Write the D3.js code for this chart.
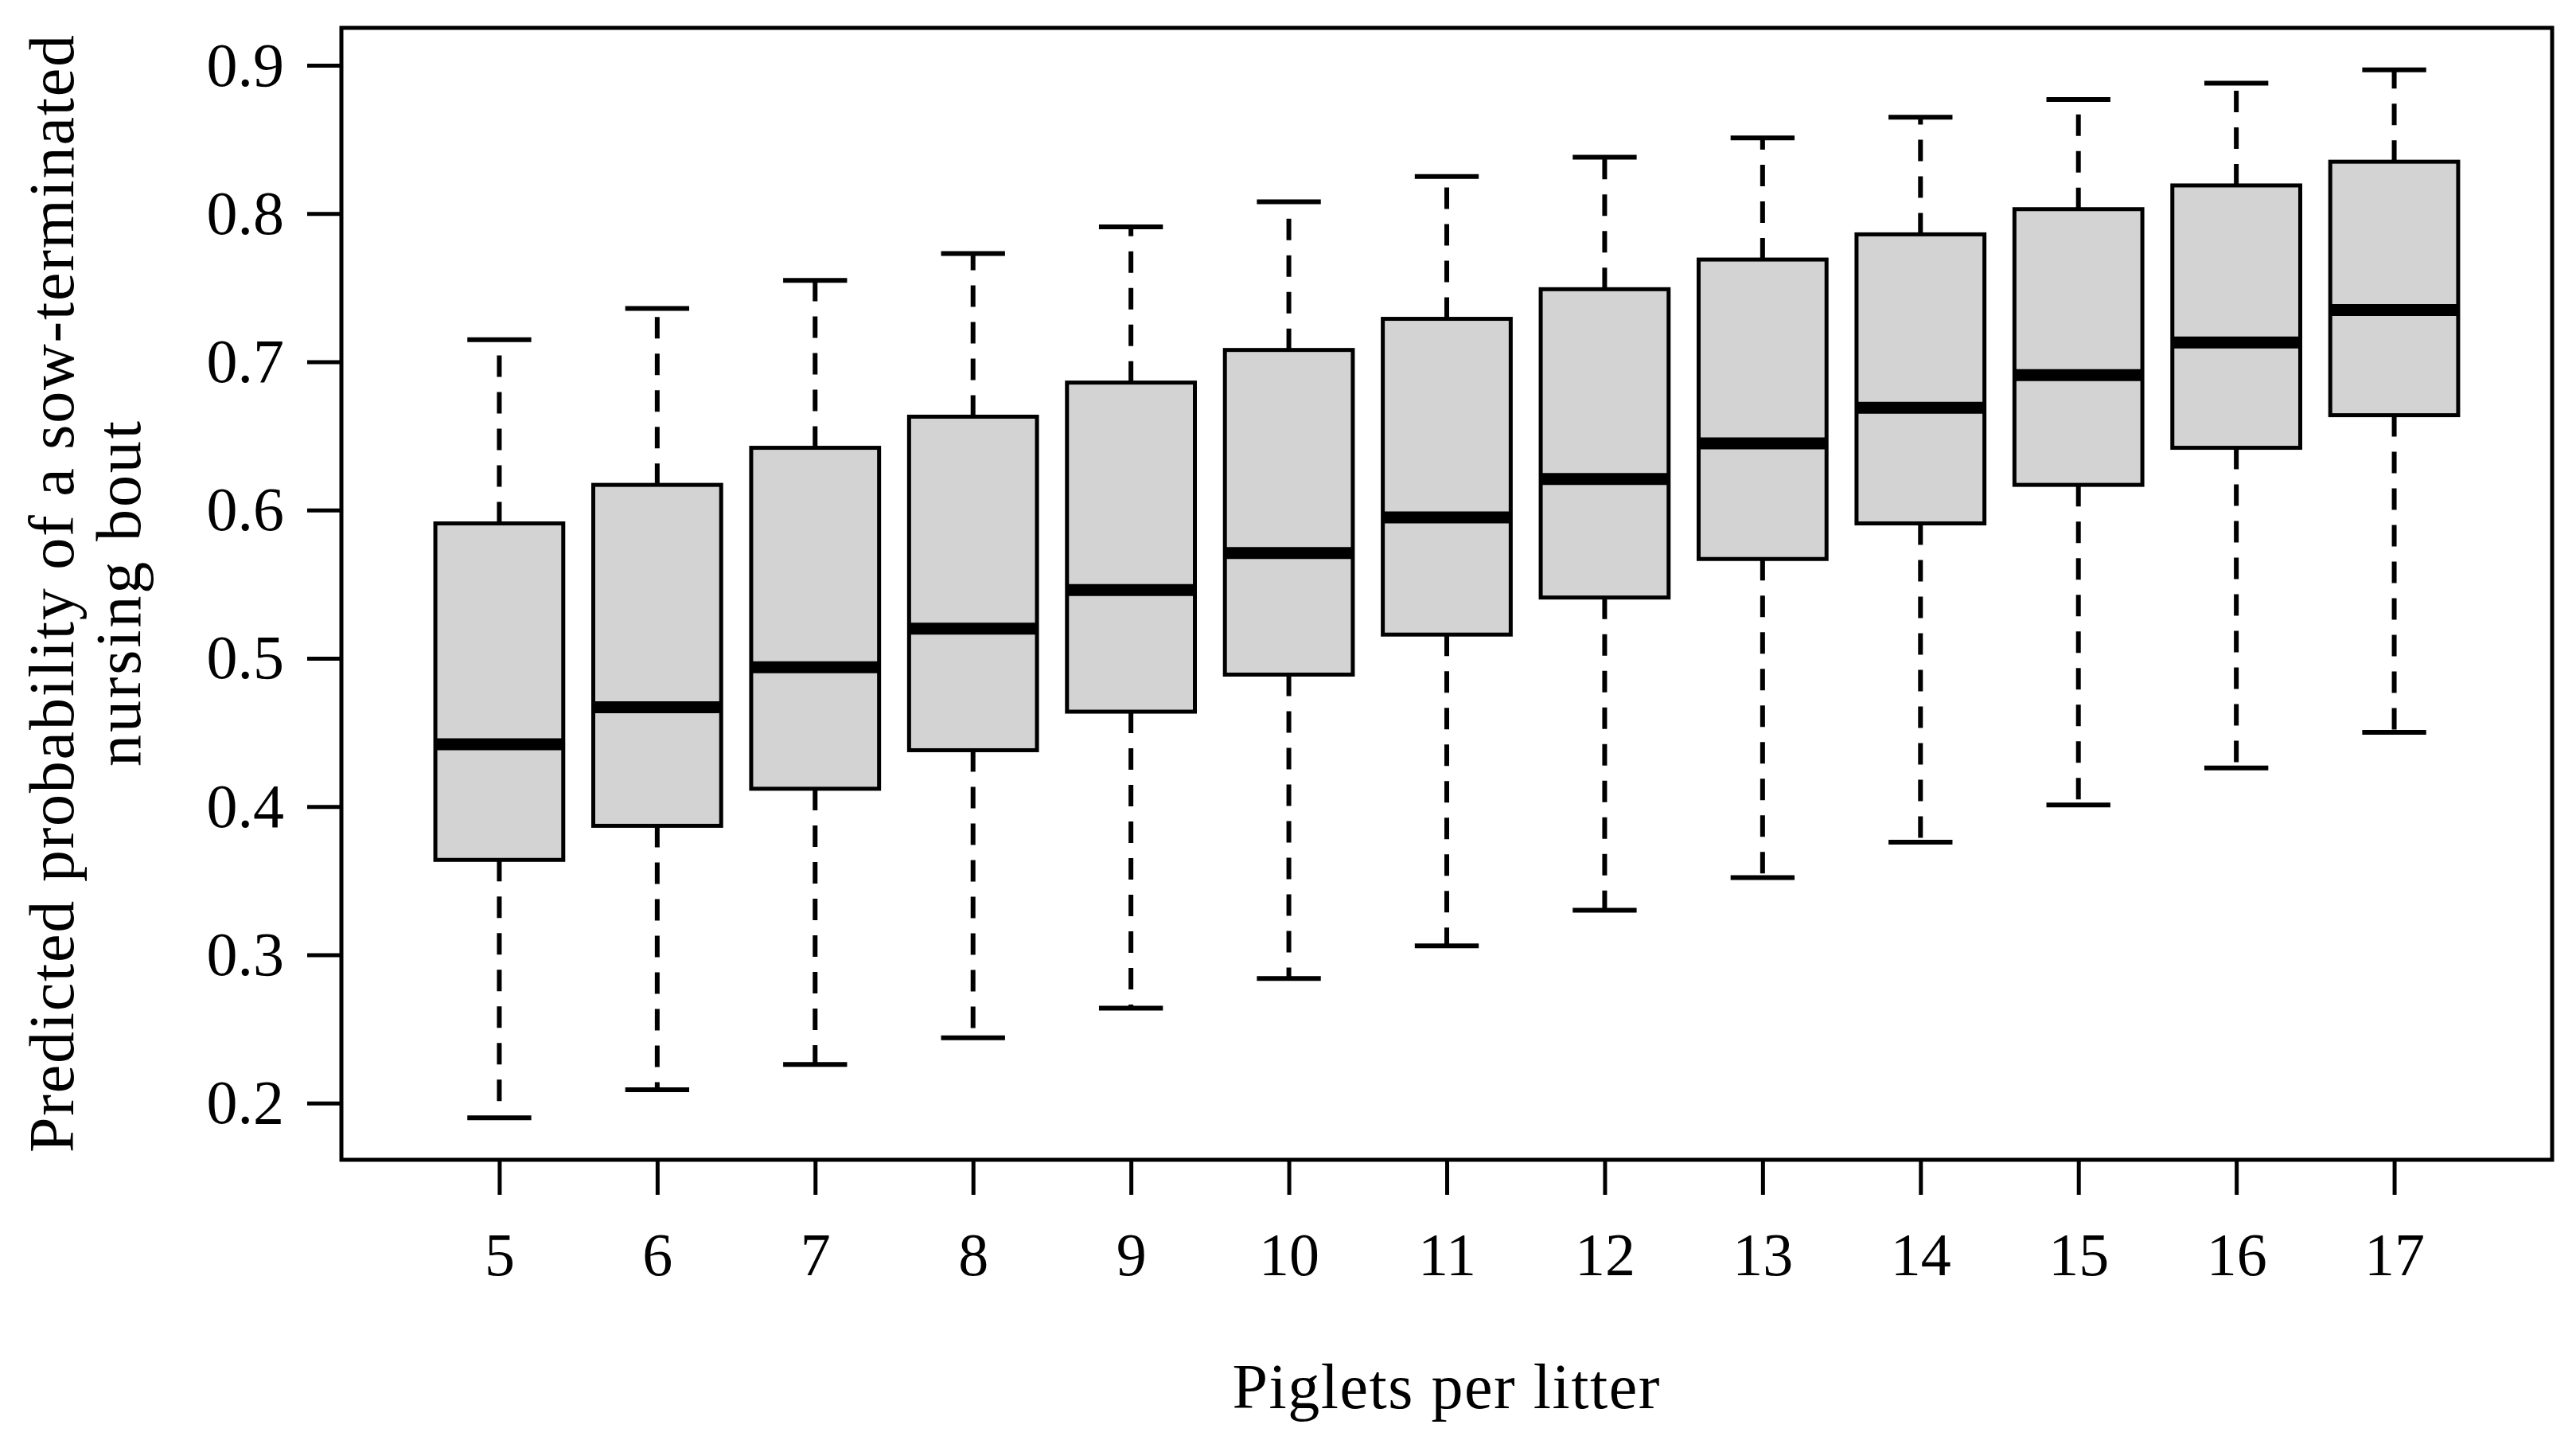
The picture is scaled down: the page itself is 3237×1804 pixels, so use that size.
<!DOCTYPE html>
<html><head><meta charset="utf-8">
<script src="https://cdn.jsdelivr.net/npm/d3@7"></script>
<style>html,body{margin:0;padding:0;background:#fff}</style>
</head><body>
<svg id="chart" width="3237" height="1804"></svg>
<script>
const categories = [5,6,7,8,9,10,11,12,13,14,15,16,17];
const lowerWhisker = [0.190,0.209,0.226,0.244,0.264,0.284,0.306,0.330,0.352,0.376,0.401,0.426,0.450];
const q1 =           [0.364,0.387,0.412,0.438,0.464,0.489,0.516,0.541,0.567,0.591,0.617,0.642,0.664];
const medians =      [0.442,0.467,0.494,0.520,0.546,0.571,0.595,0.621,0.645,0.669,0.691,0.713,0.735];
const q3 =           [0.591,0.617,0.642,0.663,0.686,0.708,0.729,0.749,0.769,0.786,0.803,0.819,0.835];
const upperWhisker = [0.715,0.736,0.755,0.773,0.791,0.808,0.825,0.838,0.851,0.865,0.877,0.888,0.897];
const yTicks = [0.2,0.3,0.4,0.5,0.6,0.7,0.8,0.9];
const xLabel = "Piglets per litter";
const yLabelLines = ["Predicted probability of a sow-terminated","nursing bout"];

const L=429, R=3207, T=35, B=1457;
const FONT = "'Liberation Serif','Times New Roman',serif";
const svg = d3.select("#chart");
const x = d3.scaleLinear().domain([4,18]).range([L,R]);
const y = d3.scaleLinear().domain([0.1617,0.9253]).range([B,T]);
const boxHalf = (x(1)-x(0))*0.405;
const capHalf = boxHalf*0.5;

const data = categories.map((c,i)=>({c, lo:lowerWhisker[i], q1:q1[i], med:medians[i], q3:q3[i], hi:upperWhisker[i]}));
const g = svg.append("g");
const bx = g.selectAll("g.box").data(data).join("g").attr("class","box");
// whiskers
bx.append("line").attr("x1",d=>x(d.c)).attr("x2",d=>x(d.c)).attr("y1",d=>y(d.q3)).attr("y2",d=>y(d.hi))
  .attr("stroke","#000").attr("stroke-width",6).attr("stroke-dasharray","27,19");
bx.append("line").attr("x1",d=>x(d.c)).attr("x2",d=>x(d.c)).attr("y1",d=>y(d.q1)).attr("y2",d=>y(d.lo))
  .attr("stroke","#000").attr("stroke-width",6).attr("stroke-dasharray","27,19");
bx.append("line").attr("x1",d=>x(d.c)-capHalf).attr("x2",d=>x(d.c)+capHalf).attr("y1",d=>y(d.hi)).attr("y2",d=>y(d.hi))
  .attr("stroke","#000").attr("stroke-width",6);
bx.append("line").attr("x1",d=>x(d.c)-capHalf).attr("x2",d=>x(d.c)+capHalf).attr("y1",d=>y(d.lo)).attr("y2",d=>y(d.lo))
  .attr("stroke","#000").attr("stroke-width",6);
bx.append("rect").attr("x",d=>x(d.c)-boxHalf).attr("width",boxHalf*2)
  .attr("y",d=>y(d.q3)).attr("height",d=>y(d.q1)-y(d.q3))
  .attr("fill","#d3d3d3").attr("stroke","#000").attr("stroke-width",5);
bx.append("line").attr("x1",d=>x(d.c)-boxHalf).attr("x2",d=>x(d.c)+boxHalf).attr("y1",d=>y(d.med)).attr("y2",d=>y(d.med))
  .attr("stroke","#000").attr("stroke-width",15);

// frame
svg.append("rect").attr("x",L).attr("y",T).attr("width",R-L).attr("height",B-T)
  .attr("fill","none").attr("stroke","#000").attr("stroke-width",5);

// axes
const yAxis = d3.axisLeft(y).tickValues(yTicks).tickFormat(d3.format(".1f")).tickSize(43).tickPadding(29);
const ya = svg.append("g").attr("transform",`translate(${L},0)`).call(yAxis);
ya.select(".domain").remove();
ya.selectAll(".tick line").attr("stroke","#000").attr("stroke-width",5);
ya.selectAll(".tick text").attr("font-family",FONT).attr("font-size",78).attr("fill","#000");

const xAxis = d3.axisBottom(x).tickValues(categories).tickFormat(d3.format("d")).tickSize(44).tickPadding(47);
const xa = svg.append("g").attr("transform",`translate(0,${B})`).call(xAxis);
xa.select(".domain").remove();
xa.selectAll(".tick line").attr("stroke","#000").attr("stroke-width",5);
xa.selectAll(".tick text").attr("font-family",FONT).attr("font-size",76).attr("fill","#000");

svg.append("text").attr("x",1817).attr("y",1769).attr("text-anchor","middle")
  .attr("font-family",FONT).attr("font-size",80).attr("fill","#000")
  .attr("textLength",537).attr("lengthAdjust","spacing").text(xLabel);

const yt = svg.append("g").attr("transform",`translate(0,${(T+B)/2}) rotate(-90)`);
const yLens = [1404, 434];
const yBase = [92, 176];
yLabelLines.forEach((t,i)=>yt.append("text").attr("x",0).attr("y",yBase[i]).attr("text-anchor","middle")
  .attr("font-family",FONT).attr("font-size",80).attr("fill","#000")
  .attr("textLength",yLens[i]).attr("lengthAdjust","spacing").text(t));
</script>
</body></html>
